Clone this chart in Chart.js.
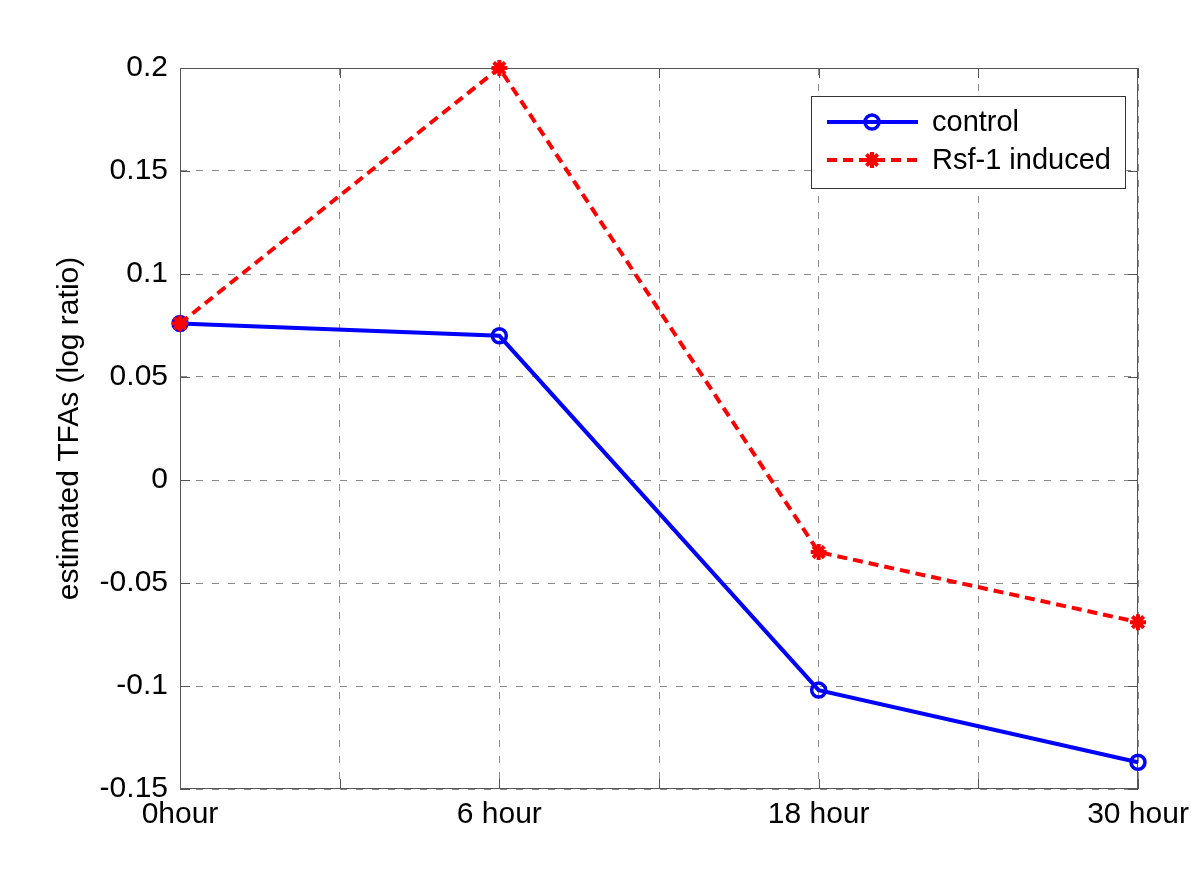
<!DOCTYPE html>
<html>
<head>
<meta charset="utf-8">
<script src="https://cdn.jsdelivr.net/npm/chart.js@4/dist/chart.umd.min.js"></script>
<style>
  html, body { margin: 0; padding: 0; background: #fff; }
  #wrap { width: 1200px; height: 880px; }
</style>
</head>
<body>
<div id="wrap"><canvas id="tfaChart" width="1200" height="880"></canvas></div>
<script>
const categories = ["0hour", "6 hour", "18 hour", "30 hour"];
const controlValues = [0.076, 0.070, -0.102, -0.137];
const rsfValues = [0.076, 0.200, -0.035, -0.069];
const yTicks = [-0.15, -0.1, -0.05, 0, 0.05, 0.1, 0.15, 0.2];
const seriesNames = ["control", "Rsf-1 induced"];

const FONT = "'Liberation Sans', Arial, sans-serif";

// box, inward tick marks and the legend, MATLAB style
const matlabAxes = {
  id: "matlabAxes",
  beforeDatasetsDraw(chart) {
    const { ctx, chartArea: a, scales } = chart;
    ctx.save();
    ctx.strokeStyle = "#555";
    ctx.lineWidth = 1;
    ctx.setLineDash([]);
    ctx.strokeRect(a.left + 0.5, a.top + 0.5, a.right - a.left - 1, a.bottom - a.top - 1);
    ctx.beginPath();
    scales.y.ticks.forEach((t) => {
      const y = Math.round(scales.y.getPixelForValue(t.value)) + 0.5;
      ctx.moveTo(a.left, y); ctx.lineTo(a.left + 10, y);
      ctx.moveTo(a.right, y); ctx.lineTo(a.right - 10, y);
    });
    scales.x.ticks.forEach((t) => {
      const x = Math.round(scales.x.getPixelForValue(t.value)) + 0.5;
      ctx.moveTo(x, a.bottom); ctx.lineTo(x, a.bottom - 10);
      ctx.moveTo(x, a.top); ctx.lineTo(x, a.top + 10);
    });
    ctx.stroke();
    ctx.restore();
  },
  afterDraw(chart) {
    const { ctx } = chart;
    const box = { x: 811, y: 96, w: 314, h: 92 };
    ctx.save();
    ctx.fillStyle = "#fff";
    ctx.fillRect(box.x, box.y, box.w, box.h);
    ctx.strokeStyle = "#333";
    ctx.lineWidth = 1;
    ctx.strokeRect(box.x + 0.5, box.y + 0.5, box.w, box.h);

    // draw in legend order: control first
    const order = [1, 0];
    order.forEach((di, row) => {
      const ds = chart.data.datasets[di];
      const y = box.y + 26 + row * 38;
      ctx.strokeStyle = ds.borderColor;
      ctx.lineWidth = ds.borderWidth;
      ctx.setLineDash(ds.borderDash || []);
      ctx.beginPath();
      ctx.moveTo(box.x + 16, y);
      ctx.lineTo(box.x + 107, y);
      ctx.stroke();
      ctx.setLineDash([]);
      ctx.fillStyle = ds.pointBackgroundColor;
      ctx.strokeStyle = ds.pointBorderColor;
      ctx.lineWidth = ds.pointBorderWidth;
      Chart.helpers.drawPoint(ctx, {
        pointStyle: ds.pointStyle,
        radius: ds.pointRadius,
        rotation: 0,
        borderWidth: ds.pointBorderWidth
      }, box.x + 61, y);
      ctx.fillStyle = "#000";
      ctx.font = "29px " + FONT;
      ctx.textBaseline = "middle";
      ctx.fillText(ds.label, box.x + 121, y + 1);
    });
    ctx.restore();
  }
};

const ctx = document.getElementById("tfaChart").getContext("2d");

new Chart(ctx, {
  type: "line",
  data: {
    datasets: [
      {
        label: seriesNames[1],
        data: categories.map((c, i) => ({ x: i, y: rsfValues[i] })),
        borderColor: "#ff0000",
        borderWidth: 4,
        borderDash: [10, 6],
        pointStyle: "star",
        pointRadius: 8,
        pointBorderWidth: 4,
        pointBorderColor: "#ff0000",
        pointBackgroundColor: "#ff0000",
        fill: false,
        tension: 0,
        clip: false,
        order: 0
      },
      {
        label: seriesNames[0],
        data: categories.map((c, i) => ({ x: i, y: controlValues[i] })),
        borderColor: "#0000ff",
        borderWidth: 4,
        pointStyle: "circle",
        pointRadius: 7,
        pointBorderWidth: 3.5,
        pointBorderColor: "#0000ff",
        pointBackgroundColor: "rgba(0,0,0,0)",
        fill: false,
        tension: 0,
        clip: false,
        order: 1
      }
    ]
  },
  options: {
    responsive: false,
    animation: false,
    layout: { padding: { top: 68, right: 62, left: 0, bottom: 0 } },
    plugins: {
      legend: { display: false },
      tooltip: { enabled: false }
    },
    scales: {
      x: {
        type: "linear",
        min: 0,
        max: categories.length - 1,
        afterBuildTicks(scale) {
          const t = [];
          for (let v = 0; v <= categories.length - 1; v += 0.5) t.push({ value: v });
          scale.ticks = t;
        },
        afterFit(scale) { scale.height = 91; },
        grid: { color: "#8a8a8a", lineWidth: 1, drawTicks: false },
        border: { display: false, dash: [7, 9] },
        ticks: {
          autoSkip: false,
          maxRotation: 0,
          padding: 8,
          color: "#000",
          font: { family: FONT, size: 30 },
          callback: (v) => (Number.isInteger(v) ? categories[v] : "")
        }
      },
      y: {
        min: yTicks[0],
        max: yTicks[yTicks.length - 1],
        afterBuildTicks(scale) {
          scale.ticks = yTicks.map((v) => ({ value: v }));
        },
        afterFit(scale) { scale.width = 180; },
        grid: { color: "#8a8a8a", lineWidth: 1, drawTicks: false },
        border: { display: false, dash: [7, 9] },
        ticks: {
          padding: 12,
          color: "#000",
          font: { family: FONT, size: 30 },
          callback: (v) => String(Math.round(v * 100) / 100)
        },
        title: {
          display: true,
          text: "estimated TFAs (log ratio)",
          color: "#000",
          font: { family: FONT, size: 30, lineHeight: 1.2 },
          padding: { top: 52, bottom: 0 }
        }
      }
    }
  },
  plugins: [matlabAxes]
});
</script>
</body>
</html>
